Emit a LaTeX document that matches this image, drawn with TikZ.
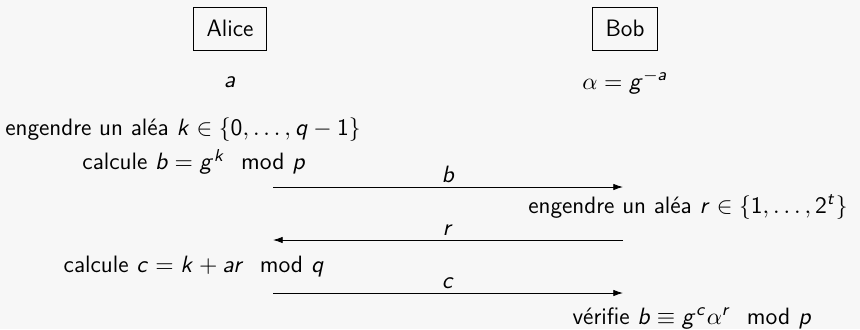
\documentclass[tikz,border=0pt]{standalone}
\usepackage{amsmath,amssymb}
\usetikzlibrary{arrows.meta,positioning}
\renewcommand{\familydefault}{\sfdefault}
% lettres et chiffres des formules en sans
\DeclareSymbolFont{operators}{OT1}{cmss}{m}{n}
\DeclareSymbolFont{sfletters}{OT1}{cmss}{m}{sl}
\DeclareMathSymbol{a}{\mathalpha}{sfletters}{`a}
\DeclareMathSymbol{b}{\mathalpha}{sfletters}{`b}
\DeclareMathSymbol{c}{\mathalpha}{sfletters}{`c}
\DeclareMathSymbol{g}{\mathalpha}{sfletters}{`g}
\DeclareMathSymbol{k}{\mathalpha}{sfletters}{`k}
\DeclareMathSymbol{p}{\mathalpha}{sfletters}{`p}
\DeclareMathSymbol{q}{\mathalpha}{sfletters}{`q}
\DeclareMathSymbol{r}{\mathalpha}{sfletters}{`r}
\DeclareMathSymbol{t}{\mathalpha}{sfletters}{`t}
\definecolor{bgcol}{HTML}{F7F7F7}

\begin{document}
\begin{tikzpicture}[x=0.0163cm, y=-0.0163cm,
    every node/.style={font=\fontsize{11}{13}\selectfont},
    party/.style={draw, minimum height=0.7cm, inner xsep=6pt},
    txt/.style={inner sep=0pt},
    msg/.style={-{Latex[length=4.5pt,width=3pt]}},
    lbl/.style={above, inner sep=2pt}
]
\fill[bgcol] (0,0) rectangle (860,329);
\useasboundingbox (0,0) rectangle (860,329);

% les deux parties
\node[party] (alice) at (230,28.5) {Alice};
\node[party] (bob) at (625,28.5) {Bob};
\node[txt] (seca) at (230,82) {$a$};
\node[txt] (puba) at (625,82) {$\alpha = g^{-a}$};

% engagement
\node[txt] (alea1) at (183,130) {engendre un aléa $k \in \{0,\dots,q-1\}$};
\node[txt] (calcb) at (194,162) {calcule $b = g^k \mod p$};
\coordinate (b1) at (273,187);
\coordinate (b2) at (623,187);
\draw[msg] (b1) -- node[lbl] {$b$} (b2);

% defi
\node[txt] (alea2) at (688,207) {engendre un aléa $r \in \{1,\dots,2^t\}$};
\coordinate (r1) at (623,240);
\coordinate (r2) at (273,240);
\draw[msg] (r1) -- node[lbl] {$r$} (r2);

% reponse
\node[txt] (calcc) at (194,267) {calcule $c = k + ar \mod q$};
\coordinate (c1) at (273,293);
\coordinate (c2) at (623,293);
\draw[msg] (c1) -- node[lbl] {$c$} (c2);
\node[txt] (verif) at (692,318) {vérifie $b \equiv g^c \alpha^r \mod p$};
\end{tikzpicture}
\end{document}
